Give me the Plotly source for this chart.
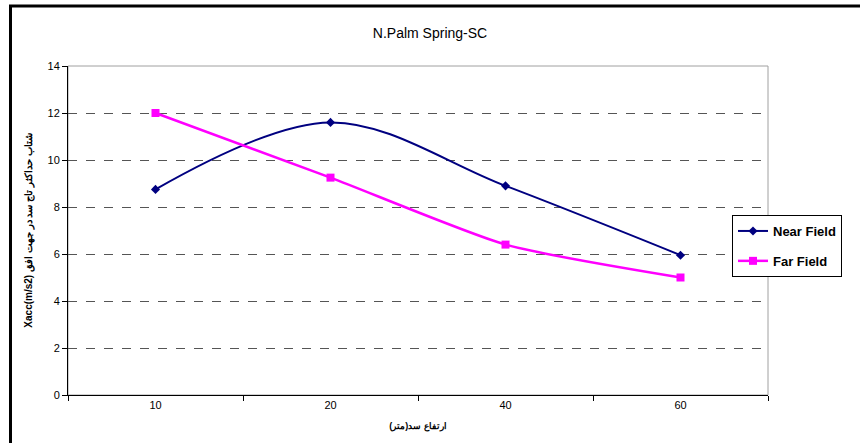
import plotly.graph_objects as go

categories = ["10", "20", "40", "60"]
near_field = [8.75, 11.6, 8.9, 5.95]
far_field = [12.0, 9.25, 6.4, 5.0]
y_ticks = [0, 2, 4, 6, 8, 10, 12, 14]

fig = go.Figure()
fig.add_trace(go.Scatter(
    x=categories, y=near_field, name="Near Field", mode="lines+markers",
    legendgroup="near",
    line=dict(color="#000080", width=2, shape="spline"),
    marker=dict(symbol="diamond", size=7, color="#000080"),
))
fig.add_trace(go.Scatter(
    x=categories, y=far_field, name="Far Field", mode="lines+markers",
    legendgroup="far",
    line=dict(color="#FF00FF", width=2.5, shape="spline", smoothing=0.6),
    marker=dict(symbol="square", size=8, color="#FF00FF",
                line=dict(color="#FF00FF", width=0)),
))

fig.update_layout(
    width=860, height=443,
    margin=dict(l=68, r=92, t=66, b=48),
    paper_bgcolor="white", plot_bgcolor="white",
    font=dict(family="Liberation Sans, Arial", color="black"),
    title=dict(text="N.Palm Spring-SC", x=0.5, xanchor="center",
               y=1 - 33 / 443, yanchor="middle",
               font=dict(size=14, family="Liberation Sans, Arial")),
    showlegend=True,
    legend=dict(x=(732 - 68) / 700, xanchor="left", y=(395 - 215) / 329, yanchor="top",
                bgcolor="white", bordercolor="black", borderwidth=1,
                font=dict(size=13, family="Liberation Sans, Arial", weight="bold"),
                tracegroupgap=10, itemwidth=30),
    xaxis=dict(
        type="category", categoryorder="array", categoryarray=categories,
        range=[-0.5, 3.5], showgrid=False, showline=True, linecolor="black", linewidth=1,
        ticks="outside", tickson="boundaries", ticklen=5, tickcolor="black",
        tickfont=dict(size=11), zeroline=False,
        title=dict(text="<b>ارتفاع سد(متر)</b>", font=dict(size=9), standoff=12),
    ),
    yaxis=dict(
        range=[0, 14], tickvals=y_ticks, showgrid=True, gridcolor="#555555",
        griddash="dash", gridwidth=1, showline=True, linecolor="black", linewidth=1,
        ticks="outside", ticklen=5, tickcolor="black", tickfont=dict(size=11),
        zeroline=False,
        title=dict(text="<b>Xacc(m/s2) شتاب حداکثر تاج سد در جهت افق</b>",
                   font=dict(size=10), standoff=13),
    ),
)

# plot area border (light gray)
fig.add_shape(type="rect", xref="paper", yref="paper", x0=0, x1=1, y0=0, y1=1,
              line=dict(color="#a0a0a0", width=1), layer="below")
# outer chart frame
fig.add_shape(type="rect", xref="paper", yref="paper",
              x0=(10.5 - 68) / 700, x1=1.3, y0=-0.3, y1=(395 - 6) / 329,
              line=dict(color="black", width=3), layer="above")

fig.write_html("out.html")
